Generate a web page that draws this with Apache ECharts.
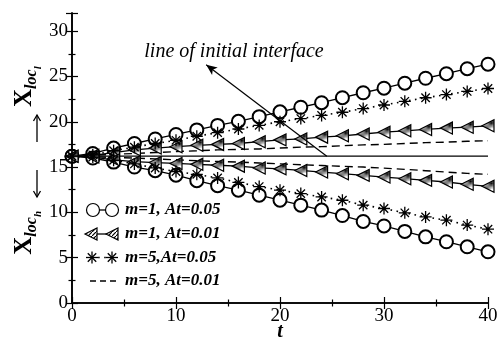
<!DOCTYPE html>
<html>
<head>
<meta charset="utf-8">
<script src="https://cdn.jsdelivr.net/npm/echarts@6/dist/echarts.min.js"></script>
<style>
  html, body { margin: 0; padding: 0; background: #fff; }
  #chart { width: 498px; height: 338px; }
</style>
</head>
<body>
<div id="chart"></div>
<script>
// time samples
const tVals = [0, 2, 4, 6, 8, 10, 12, 14, 16, 18, 20, 22, 24, 26, 28, 30, 32, 34, 36, 38, 40];

// m=1, At=0.05 (circles)
const circUpper = [16.2, 16.5, 17.1, 17.6, 18.1, 18.6, 19.1, 19.6, 20.05, 20.56, 21.1, 21.6, 22.1, 22.65, 23.2, 23.7, 24.25, 24.8, 25.3, 25.85, 26.35];
const circLower = [16.2, 16.0, 15.55, 15.0, 14.6, 14.1, 13.5, 12.95, 12.45, 11.9, 11.35, 10.8, 10.25, 9.65, 9.0, 8.5, 7.9, 7.3, 6.76, 6.2, 5.65];
// m=1, At=0.01 (triangles)
const triUpper = [16.2, 16.3, 16.6, 16.9, 17.1, 17.25, 17.4, 17.5, 17.6, 17.8, 18.0, 18.1, 18.3, 18.45, 18.65, 18.85, 19.0, 19.15, 19.3, 19.4, 19.55];
const triLower = [16.2, 16.1, 15.8, 15.6, 15.5, 15.4, 15.3, 15.2, 15.1, 14.9, 14.8, 14.63, 14.45, 14.27, 14.08, 13.9, 13.72, 13.53, 13.35, 13.1, 12.88];
// m=5, At=0.05 (stars)
const starUpper = [16.2, 16.35, 16.8, 17.2, 17.6, 17.95, 18.4, 18.8, 19.2, 19.6, 20.0, 20.35, 20.7, 21.05, 21.45, 21.85, 22.25, 22.65, 23.0, 23.35, 23.67];
const starLower = [16.2, 16.1, 15.75, 15.35, 14.9, 14.5, 14.2, 13.8, 13.3, 12.85, 12.45, 12.07, 11.7, 11.34, 10.8, 10.43, 9.95, 9.5, 9.14, 8.6, 8.15];
// m=5, At=0.01 (dashed)
const dashUpper = [16.2, 16.3, 16.4, 16.5, 16.6, 16.7, 16.8, 16.9, 16.95, 17.0, 17.1, 17.2, 17.25, 17.35, 17.45, 17.5, 17.6, 17.7, 17.75, 17.85, 17.9];
const dashLower = [16.2, 16.15, 16.05, 16.0, 15.9, 15.8, 15.7, 15.62, 15.55, 15.45, 15.35, 15.26, 15.17, 15.08, 15.0, 14.88, 14.75, 14.6, 14.45, 14.3, 14.2];

// initial interface and its annotation
const interfaceY = 16.2;
const arrowFrom = [24.5, 16.2];
const arrowTo = [12.9, 26.3];

const legendNames = ['m=1, At=0.05', 'm=1, At=0.01', 'm=5,At=0.05', 'm=5, At=0.01'];
const xTicks = [0, 10, 20, 30, 40];
const yTicks = [0, 5, 10, 15, 20, 25, 30];

const serif = 'Liberation Serif';
const starPath = 'path://M0,-6L0,6M-6,0L6,0M-4.2,-4.2L4.2,4.2M-4.2,4.2L4.2,-4.2';
const triPath = 'path://M0,6L12,0L12,12Z';

// hatched fill for the triangles
function hatch() {
  const c = document.createElement('canvas');
  c.width = 4; c.height = 4;
  const g = c.getContext('2d');
  g.fillStyle = '#fff';
  g.fillRect(0, 0, 4, 4);
  g.strokeStyle = '#000';
  g.lineWidth = 1.2;
  g.beginPath();
  g.moveTo(0, 4); g.lineTo(4, 0);
  g.stroke();
  return { image: c, repeat: 'repeat' };
}
const hatchFill = hatch();

function pairs(ys) {
  return tVals.map((t, i) => [t, ys[i]]);
}

function circSeries(ys) {
  return {
    type: 'line', data: pairs(ys), symbol: 'emptyCircle', symbolSize: 13,
    lineStyle: { color: '#000', width: 1.3 },
    itemStyle: { color: '#000', borderColor: '#000', borderWidth: 1.2 },
    z: 3
  };
}
function triSeries(ys) {
  return {
    type: 'line', data: pairs(ys), symbol: triPath, symbolSize: [12, 12],
    lineStyle: { color: '#000', width: 1.3 },
    itemStyle: { color: hatchFill, borderColor: '#000', borderWidth: 1.2 },
    z: 4
  };
}
function starSeries(ys) {
  return {
    type: 'line', data: pairs(ys), symbol: starPath, symbolSize: 12,
    lineStyle: { color: '#000', width: 1.6, type: [1.6, 4.5] },
    itemStyle: { color: '#000', borderColor: '#000', borderWidth: 1.3 },
    z: 5
  };
}
function dashSeries(ys) {
  return {
    type: 'line', data: pairs(ys), symbol: 'none',
    lineStyle: { color: '#000', width: 1.4, type: [8, 5] },
    z: 2
  };
}

// legend drawn by hand: symbol - line - symbol
function legendRow(i, y) {
  const kids = [];
  const L = (x1, x2, dash) => ({
    type: 'line', shape: { x1: x1, y1: y, x2: x2, y2: y },
    style: { stroke: '#000', lineWidth: i === 2 ? 1.6 : 1.3, lineDash: dash || null }
  });
  if (i === 0) {
    kids.push(L(93, 112));
    [93, 112].forEach(cx => kids.push({ type: 'circle', shape: { cx: cx, cy: y, r: 6.5 }, style: { fill: '#fff', stroke: '#000', lineWidth: 1.2 } }));
  } else if (i === 1) {
    kids.push(L(90, 112));
    [85, 106].forEach(x0 => kids.push({ type: 'polygon', shape: { points: [[x0, y], [x0 + 12, y - 6], [x0 + 12, y + 6]] }, style: { fill: hatchFill, stroke: '#000', lineWidth: 1.2 } }));
  } else if (i === 2) {
    kids.push(L(92, 112, [1.6, 4.5]));
    [92, 112].forEach(cx => {
      [[0, -6, 0, 6], [-6, 0, 6, 0], [-4.2, -4.2, 4.2, 4.2], [-4.2, 4.2, 4.2, -4.2]].forEach(s => kids.push({
        type: 'line', shape: { x1: cx + s[0], y1: y + s[1], x2: cx + s[2], y2: y + s[3] }, style: { stroke: '#000', lineWidth: 1.3 }
      }));
    });
  } else {
    kids.push(L(90, 118, [6, 4]));
  }
  kids.push({
    type: 'text', x: 125, y: y,
    style: { text: legendNames[i], font: 'italic bold 17px "' + serif + '"', fill: '#000', verticalAlign: 'middle' }
  });
  return kids;
}

const legendY = [210, 234, 257.5, 281];
let legendGraphics = [];
legendY.forEach((y, i) => { legendGraphics = legendGraphics.concat(legendRow(i, y)); });

// the two arrows of the y-axis title
function vArrow(x, yTail, yHead) {
  const d = yHead < yTail ? 1 : -1;
  return [
    { type: 'line', shape: { x1: x, y1: yTail, x2: x, y2: yHead }, style: { stroke: '#000', lineWidth: 1.3 } },
    { type: 'polyline', shape: { points: [[x - 3.5, yHead + d * 6], [x, yHead], [x + 3.5, yHead + d * 6]] }, style: { stroke: '#000', lineWidth: 1.3, fill: null } }
  ];
}

const chart = echarts.init(document.getElementById('chart'), null, { renderer: 'canvas' });

const axisCommon = {
  axisLine: { lineStyle: { color: '#000', width: 1.6 } },
  axisTick: { inside: true, length: 6, lineStyle: { color: '#000', width: 1.2 } },
  minorTick: { show: true, splitNumber: 2, length: 3.5, lineStyle: { color: '#000', width: 1.2 } },
  splitLine: { show: false }
};

chart.setOption({
  animation: false,
  grid: { left: 72, right: 10, top: 13, bottom: 35, outerBoundsMode: 'none', containLabel: false },
  xAxis: [
    Object.assign({}, axisCommon, {
      type: 'value', min: xTicks[0], max: xTicks[xTicks.length - 1], interval: 10,
      name: 't', nameLocation: 'middle', nameGap: 19, nameMoveOverlap: false,
      nameTextStyle: { fontFamily: serif, fontSize: 20, fontWeight: 'bold', fontStyle: 'italic', color: '#000' },
      axisLabel: { fontFamily: serif, fontSize: 19, color: '#000', margin: 4 }
    }),
    Object.assign({}, axisCommon, {
      type: 'value', position: 'top', min: xTicks[0], max: xTicks[xTicks.length - 1], interval: 10,
      axisLabel: { show: false }
    })
  ],
  yAxis: [
    Object.assign({}, axisCommon, {
      type: 'value', min: yTicks[0], max: 32, interval: 5,
      name: '{X|X}{s|loc}{ss|h}{g|}{X|X}{s|loc}{se|l}',
      nameLocation: 'middle', nameRotate: 90, nameGap: 28, nameMoveOverlap: false,
      nameTextStyle: {
        rich: {
          X: { fontFamily: serif, fontSize: 25, fontWeight: 'bold', color: '#000', lineHeight: 24, padding: [0, 0, 14, 0] },
          s: { fontFamily: serif, fontSize: 16, fontWeight: 'bold', fontStyle: 'italic', color: '#000', lineHeight: 16, padding: [0, 0, 4, 0], verticalAlign: 'bottom' },
          ss: { fontFamily: serif, fontSize: 11, fontWeight: 'bold', fontStyle: 'italic', color: '#000', lineHeight: 12, verticalAlign: 'bottom' },
          se: { fontFamily: serif, fontSize: 11, fontWeight: 'bold', fontStyle: 'italic', color: '#000', lineHeight: 12, verticalAlign: 'bottom', padding: [0, 5, 0, 0] },
          g: { width: 104, lineHeight: 16 }
        }
      },
      axisLabel: { fontFamily: serif, fontSize: 19, color: '#000', margin: 4, showMaxLabel: false }
    }),
    Object.assign({}, axisCommon, {
      type: 'value', position: 'right', min: yTicks[0], max: 32, interval: 5,
      axisLabel: { show: false }
    })
  ],
  series: [
    {
      type: 'line', data: [[xTicks[0], interfaceY], [xTicks[xTicks.length - 1], interfaceY]],
      symbol: 'none', lineStyle: { color: '#000', width: 1.3 }, z: 1,
      markLine: {
        silent: true, symbol: ['none', 'arrow'], symbolSize: [7, 11],
        lineStyle: { color: '#000', width: 1.2, type: 'solid' },
        label: { show: false },
        data: [[{ coord: arrowFrom }, { coord: arrowTo }]]
      }
    },
    dashSeries(dashUpper), dashSeries(dashLower),
    circSeries(circUpper), circSeries(circLower),
    triSeries(triUpper), triSeries(triLower),
    starSeries(starUpper), starSeries(starLower)
  ],
  graphic: [
    {
      type: 'text', x: 234, y: 52,
      style: { text: 'line of initial interface', font: 'italic 20px "' + serif + '"', fill: '#000', align: 'center', verticalAlign: 'middle' }
    }
  ].concat(vArrow(37, 142, 115), vArrow(37, 170, 197), legendGraphics)
});
</script>
</body>
</html>
